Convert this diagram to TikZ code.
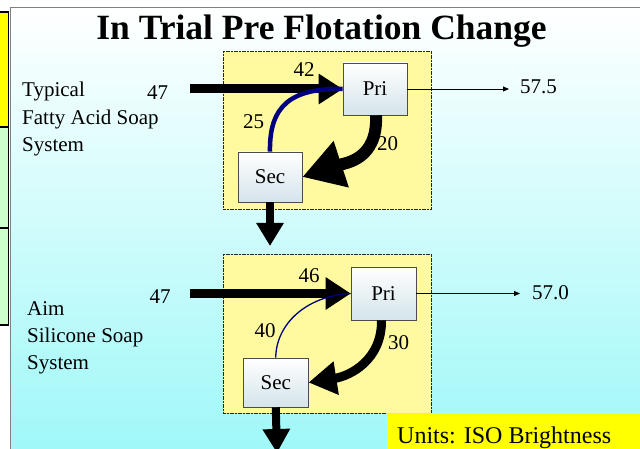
\documentclass[tikz,border=0pt]{standalone}
\usepackage{fontspec}
\setmainfont{Liberation Serif}
\usetikzlibrary{arrows.meta}
\definecolor{panelcyan}{RGB}{160,248,248}
\definecolor{boxyellow}{RGB}{255,250,160}
\definecolor{stripgreen}{RGB}{204,255,204}
\definecolor{flownavy}{RGB}{0,0,128}
\definecolor{cellshade}{RGB}{212,228,234}
\definecolor{labelyellow}{RGB}{255,255,0}
\begin{document}
\begin{tikzpicture}[x=1pt,y=-1pt,
  lbl/.style={font=\fontsize{21}{27}\selectfont, inner sep=0pt},
  cell/.style={draw=black!70, line width=0.6pt, top color=white, bottom color=cellshade,
    font=\fontsize{21}{21}\selectfont, inner sep=0pt},
  stage/.style={draw=black!85, dash pattern=on 1.2pt off 0.4pt, line width=1pt, fill=boxyellow},
  tab/.style={draw=black, line width=1.5pt},
  recycle/.style={draw=flownavy},
  product/.style={line width=0.8pt, -{Triangle[length=6pt,width=5pt]}}
]
\useasboundingbox (0,0) rectangle (640,449);
\clip (0,0) rectangle (640,449);
\fill[white] (0,0) rectangle (640,449);

% slide panel with vertical fade
\shade[top color=white, bottom color=panelcyan] (10,7) rectangle (640,449);
\draw[gray, line width=0.8pt] (10,449) -- (10,7) -- (640,7);

% side tabs
\draw[tab, fill=labelyellow] (-2,12) rectangle (8.5,127);
\draw[tab, fill=stripgreen] (-2,127) rectangle (8.5,228);
\draw[tab, fill=stripgreen] (-2,228) rectangle (8.5,325);

% title
\node[font=\fontsize{35.5}{36}\selectfont\bfseries, anchor=base, inner sep=0pt] (title) at (321.5,40) {In Trial Pre Flotation Change};

% ---------- fatty acid soap system ----------
\draw[stage] (223,52) rectangle (431,210);
\node[cell, minimum width=64pt, minimum height=52pt] (pri1) at (375,89) {Pri};
\node[cell, minimum width=64pt, minimum height=50pt] (sec1) at (270,177) {Sec};

\node[lbl, anchor=base west] (typA) at (22,97) {Typical};
\node[lbl, anchor=base west] (typB) at (22,124.5) {Fatty Acid Soap};
\node[lbl, anchor=base west] (typC) at (22,152) {System};

\coordinate (in1) at (190,89);
\draw[line width=9pt, -{Triangle[length=24pt,width=29pt]}] (in1) -- (pri1.west);
\draw[recycle, line width=4.5pt] (sec1.north) .. controls (269,105) and (292,88) .. (pri1.west);
\draw[line width=12pt, -{Triangle[length=41pt,width=46pt]}]
  ([xshift=1pt]pri1.south) .. controls (378,160) and (345,163) .. (sec1.east);
\coordinate (out1) at (270,246);
\draw[line width=8pt, -{Triangle[length=23pt,width=26pt]}] (sec1.south) -- (out1);
\coordinate (prod1) at (509,89);
\draw[product] (pri1.east) -- (prod1);

\node[lbl, anchor=base] (feed1) at (157.5,100) {47};
\node[lbl, anchor=base] (pin1) at (304,77) {42};
\node[lbl, anchor=base] (rec1) at (253.5,129) {25};
\node[lbl, anchor=base] (und1) at (387.5,151) {20};
\node[lbl, anchor=base west] (val1) at (520,94) {57.5};

% ---------- silicone soap system ----------
\draw[stage] (223,255) rectangle (431,413);
\node[cell, minimum width=65pt, minimum height=53pt] (pri2) at (383.5,293.5) {Pri};
\node[cell, minimum width=65pt, minimum height=49pt] (sec2) at (275.75,382.5) {Sec};

\node[lbl, anchor=base west] (aimA) at (27,315) {Aim};
\node[lbl, anchor=base west] (aimB) at (27,342) {Silicone Soap};
\node[lbl, anchor=base west] (aimC) at (27,369) {System};

\coordinate (in2) at (190,293.5);
\draw[line width=9pt, -{Triangle[length=25pt,width=31pt]}] (in2) -- (pri2.west);
\draw[recycle, line width=1.3pt] (sec2.north) .. controls (276,325) and (305,296) .. (pri2.west);
\draw[line width=9pt, -{Triangle[length=28pt,width=32pt]}]
  ([xshift=-2pt]pri2.south) .. controls (382,360) and (350,376) .. (sec2.east);
\coordinate (out2) at (277,453);
\draw[line width=8pt, -{Triangle[length=24pt,width=26pt]}] (sec2.south) -- (out2);
\coordinate (prod2) at (520,293.5);
\draw[product] (pri2.east) -- (prod2);

\node[lbl, anchor=base] (feed2) at (160,303) {47};
\node[lbl, anchor=base] (pin2) at (309,282) {46};
\node[lbl, anchor=base] (rec2) at (265,337) {40};
\node[lbl, anchor=base] (und2) at (398.5,349) {30};
\node[lbl, anchor=base west] (val2) at (532,299) {57.0};

% units note
\fill[labelyellow] (387,413) rectangle (640,449);
\node[font=\fontsize{24}{24}\selectfont, anchor=base west, inner sep=0pt] (units) at (397,443) {Units: ISO Brightness};
\end{tikzpicture}
\end{document}
